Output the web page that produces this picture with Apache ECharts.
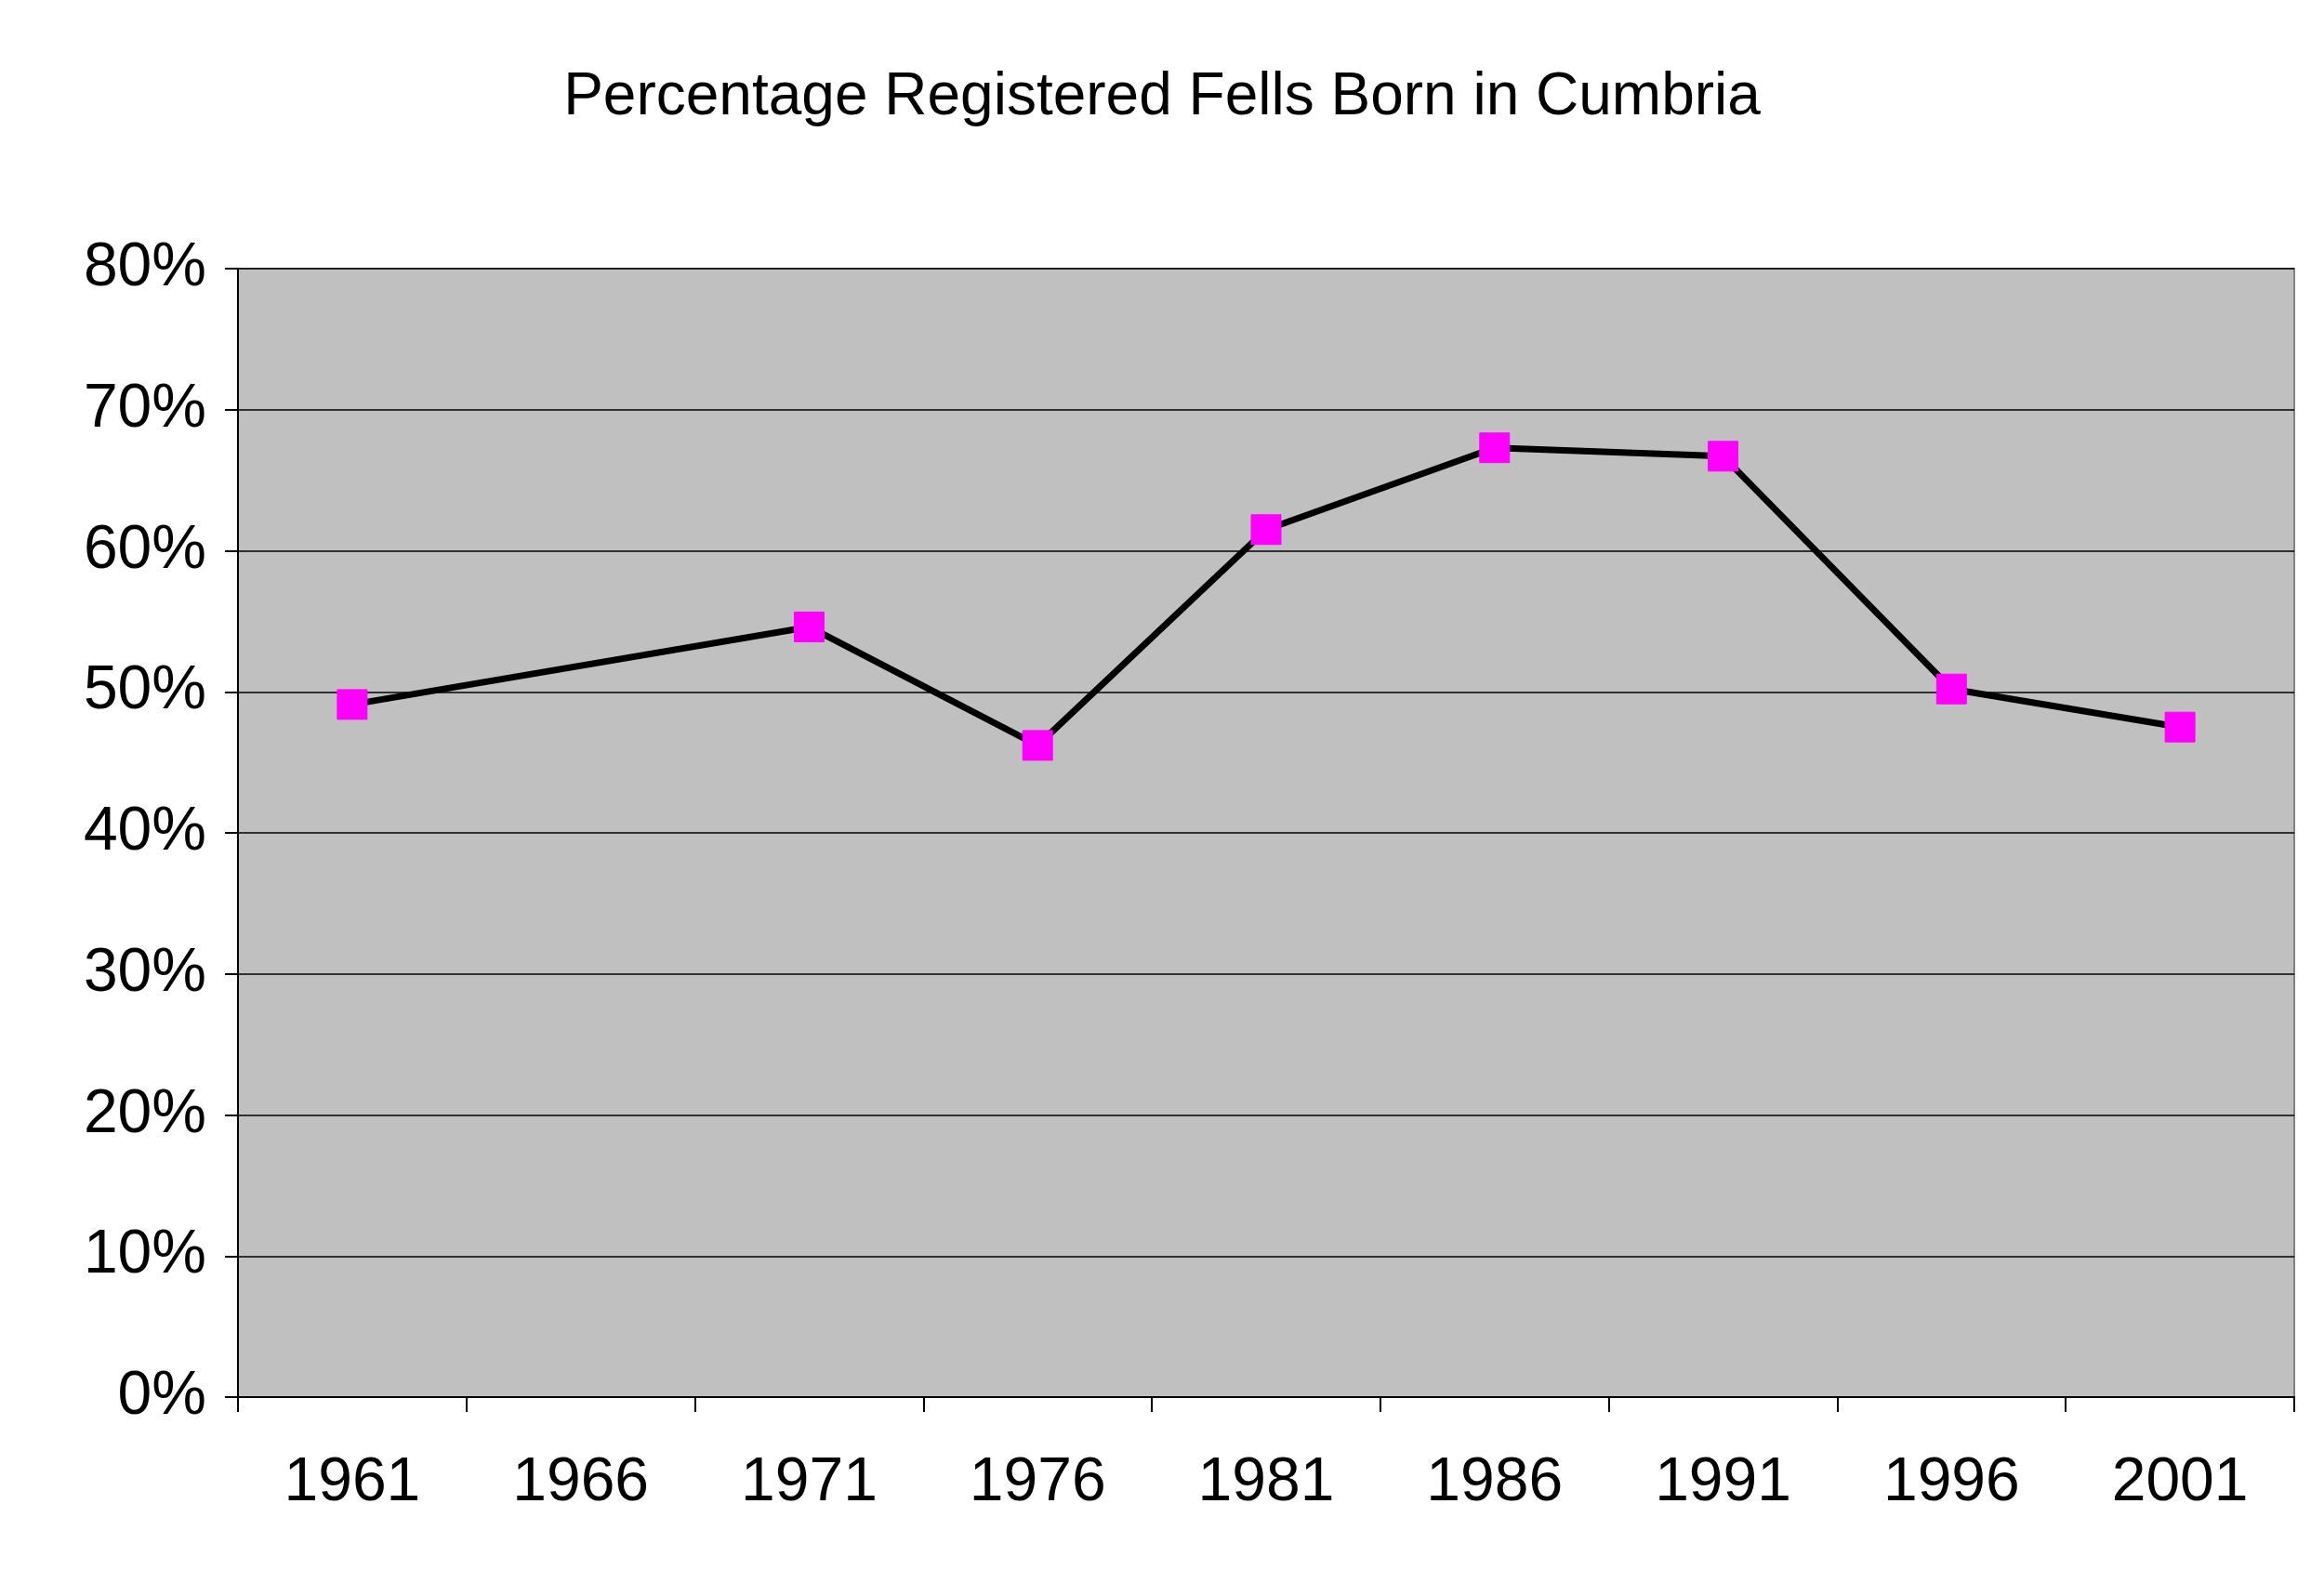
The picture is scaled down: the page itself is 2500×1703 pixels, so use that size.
<!DOCTYPE html>
<html><head><meta charset="utf-8">
<script src="https://cdn.jsdelivr.net/npm/echarts@6/dist/echarts.min.js"></script>
<style>html,body{margin:0;padding:0;background:#fff}#c{width:2500px;height:1703px}</style>
</head><body><div id="c"></div>
<script>
const years = ['1961','1966','1971','1976','1981','1986','1991','1996','2001'];
const percentBornInCumbria = [49.1, null, 54.6, 46.2, 61.5, 67.3, 66.7, 50.2, 47.5];
const yTicks = [0, 10, 20, 30, 40, 50, 60, 70, 80];
const chart = echarts.init(document.getElementById('c'));
const F = '"Liberation Sans", Arial, sans-serif';
chart.setOption({
  backgroundColor: '#fff',
  animation: false,
  title: { text: 'Percentage Registered Fells Born in Cumbria', left: 'center', top: 68,
    textStyle: { fontFamily: F, fontSize: 64, fontWeight: 'normal', color: '#000' } },
  grid: { left: 256, right: 32, top: 289, bottom: 200, backgroundColor: '#c0c0c0', show: true, borderColor: '#808080', borderWidth: 2 },
  xAxis: { type: 'category', data: years, boundaryGap: true,
    axisLine: { lineStyle: { color: '#000', width: 2 } },
    axisTick: { show: true, length: 16, lineStyle: { color: '#000', width: 2 } },
    axisLabel: { fontFamily: F, fontSize: 66, color: '#000', margin: 60 } },
  yAxis: { type: 'value', min: 0, max: yTicks[yTicks.length-1], interval: 10,
    axisLine: { show: true, lineStyle: { color: '#000', width: 2 } },
    axisTick: { show: true, length: 14, lineStyle: { color: '#000', width: 2 } },
    splitLine: { lineStyle: { color: '#000', width: 1.5 } },
    axisLabel: { fontFamily: F, fontSize: 66, color: '#000', margin: 34, formatter: v => v + '%' } },
  series: [{ type: 'line', data: percentBornInCumbria, connectNulls: true,
    symbol: 'rect', symbolSize: 32,
    itemStyle: { color: '#ff00ff', borderColor: '#ff00ff' },
    lineStyle: { color: '#000', width: 7 } }]
});
</script></body></html>
